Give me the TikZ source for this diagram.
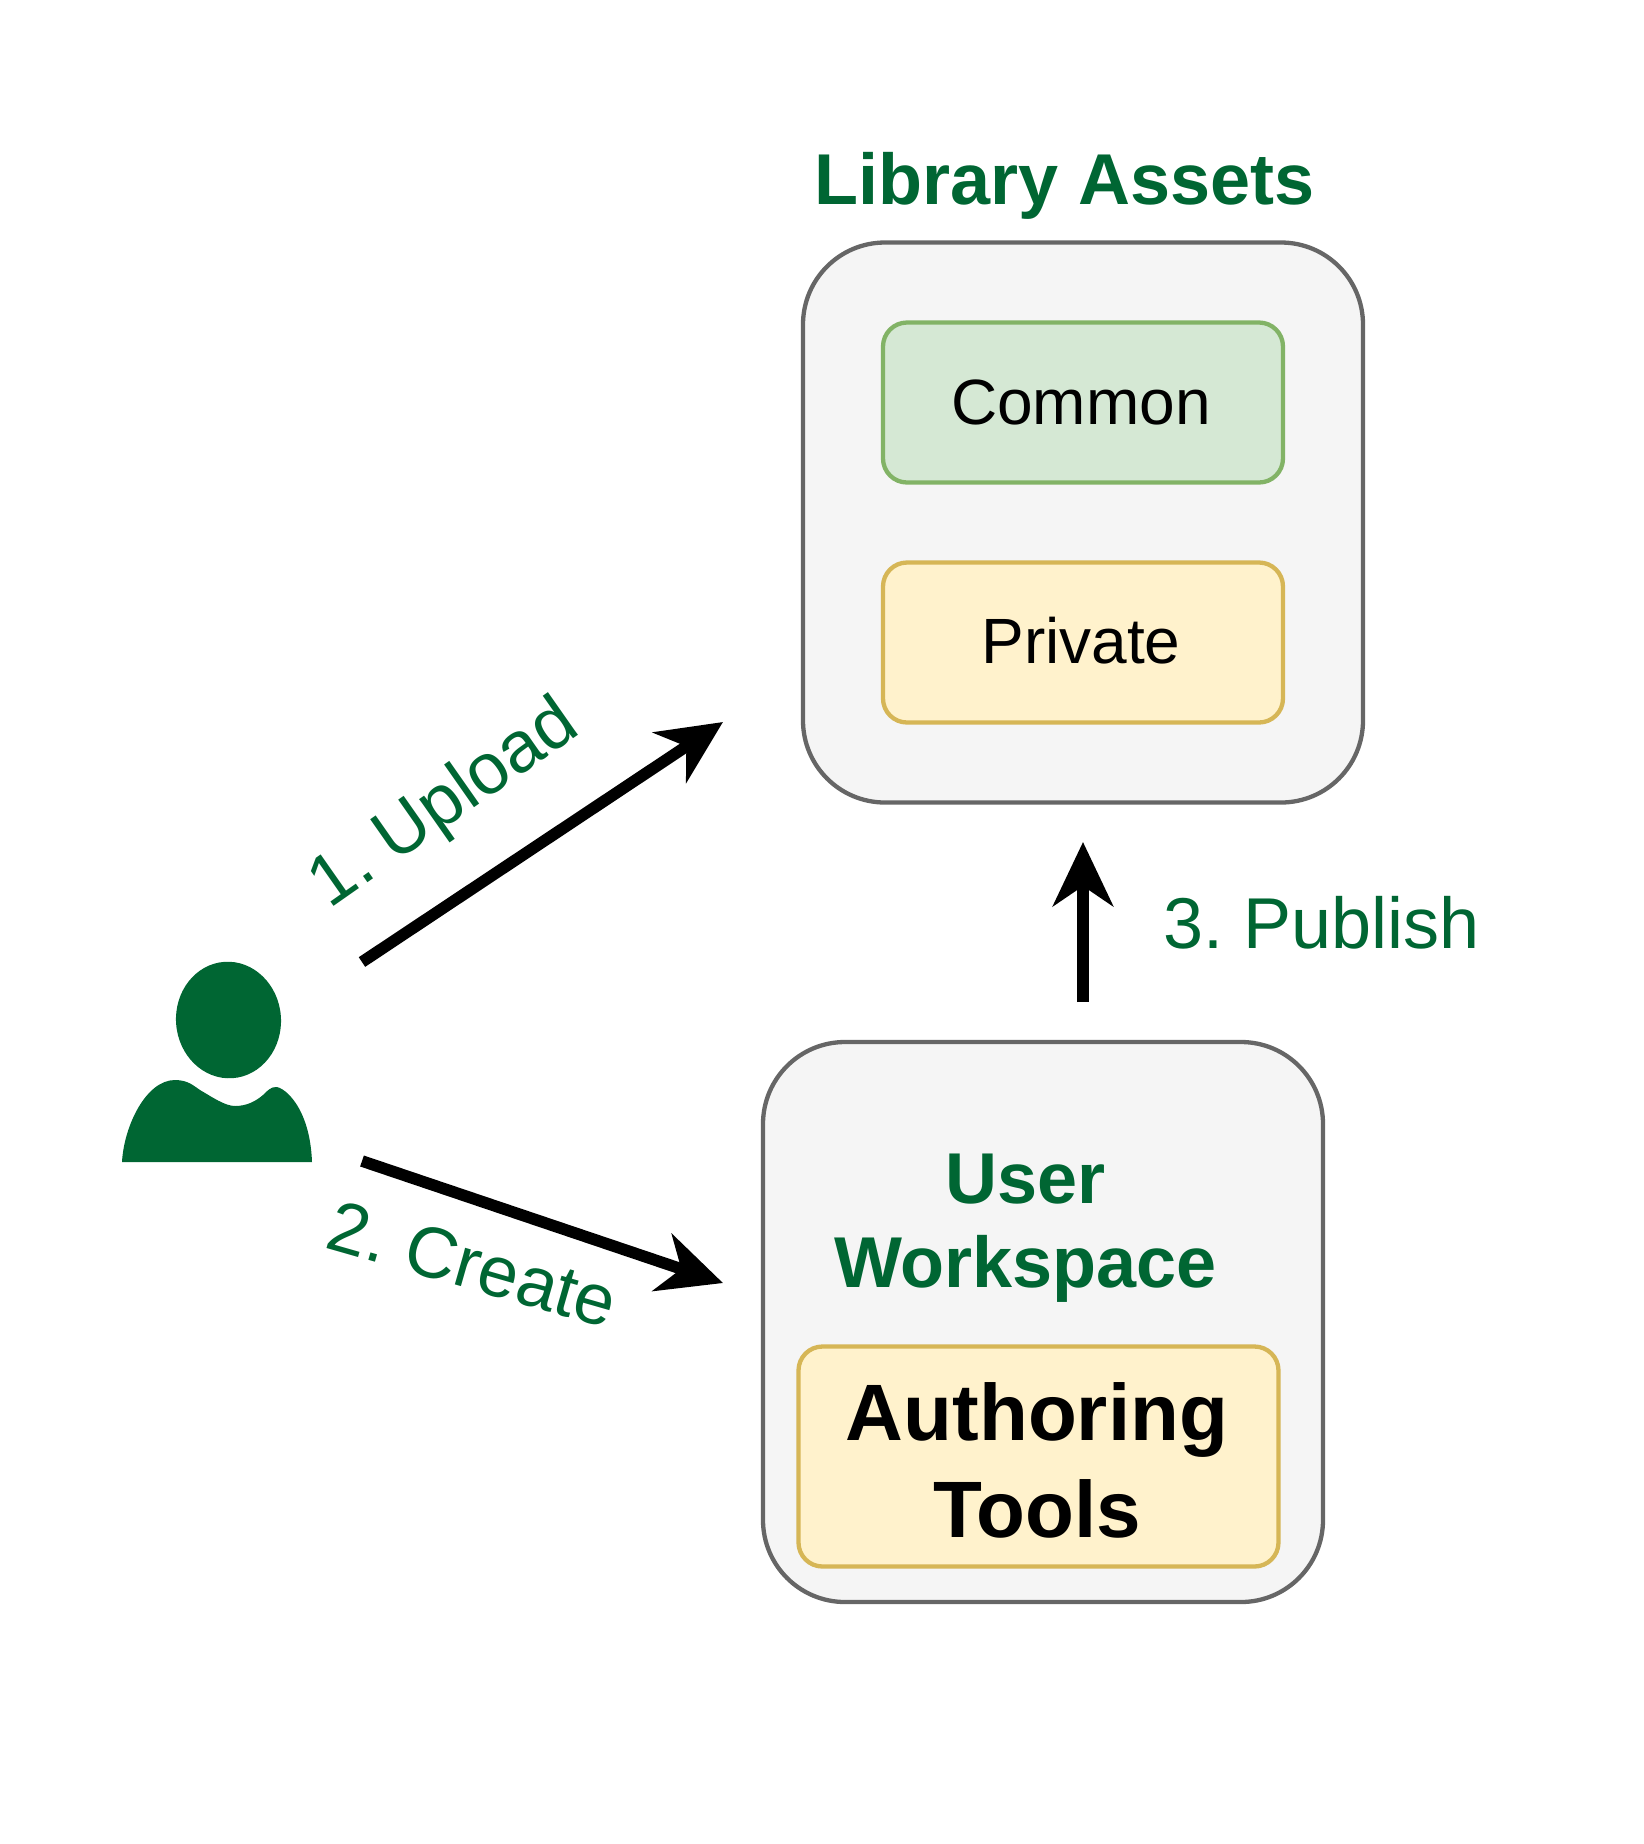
\documentclass[tikz,border=0pt]{standalone}
\usepackage{fontspec}
\setmainfont{Liberation Sans}
\usepackage{tikz}
\usetikzlibrary{arrows.meta}
\definecolor{deepgreen}{HTML}{006633}
\definecolor{greenline}{HTML}{82B366}
\definecolor{greenfill}{HTML}{D5E8D4}
\definecolor{yellowline}{HTML}{D6B656}
\definecolor{yellowfill}{HTML}{FFF2CC}
\tikzset{
    outerbox/.style={draw=black!60, fill=black!4, line width=2.15pt, rounded corners=41pt, minimum width=280pt, minimum height=280pt},
    innerbox/.style={line width=2.15pt, rounded corners=12pt, align=center, inner sep=0pt},
    greenbox/.style={innerbox, draw=greenline, fill=greenfill},
    yellowbox/.style={innerbox, draw=yellowline, fill=yellowfill},
    steplabel/.style={deepgreen, font=\fontsize{36}{42}\selectfont\frenchspacing},
    headline/.style={deepgreen, align=center, font=\fontsize{36}{42}\selectfont\bfseries},
    bigarrow/.style={-{Stealth[length=32pt, width=30pt, inset=10pt]}, line width=5.8pt},
}
\begin{document}
\begin{tikzpicture}[x=0.5pt, y=-0.5pt]
    \useasboundingbox (0,0) rectangle (1644,1844);

    % Library assets
    \node (library) at (1083,522.5) [outerbox] {};
    \node (librarytitle) at (1065,186) [headline] {Library Assets};
    \node (common) at (1083,402.5) [greenbox, minimum width=200pt, minimum height=80pt] {};
    \node (commontext) at (1081,402.5) [font=\fontsize{32}{40}\selectfont] {Common};
    \node (private) at (1083,642.5) [yellowbox, minimum width=200pt, minimum height=80pt] {};
    \node (privatetext) at (1081,641) [font=\fontsize{32}{40}\selectfont] {Private};

    % User workspace
    \node (workspace) at (1043,1322) [outerbox] {};
    \node (workspacetitle) at (1025.5,1228) [headline] {User\\Workspace};
    \node (tools) at (1038.5,1456.5) [yellowbox, minimum width=240pt, minimum height=110pt] {};
    \node (toolstext) at (1037,1460) [align=center, font=\fontsize{40}{48.5}\selectfont\bfseries] {Authoring\\Tools};

    % User
    \fill [deepgreen, rotate around={4:(228.5,1020)}] (228.5,1020) ellipse [x radius=52.5, y radius=58.3];
    \fill [deepgreen] (122,1162) .. controls (124,1126) and (146,1080) .. (175,1080)
        .. controls (188,1080) and (194,1086) .. (200,1090)
        .. controls (212,1097) and (225,1106) .. (235,1106)
        .. controls (247,1106) and (256,1101) .. (263,1095)
        .. controls (268,1090) and (271,1087) .. (276,1087)
        .. controls (284,1087) and (310,1107) .. (312,1162) -- cycle;

    % Arrows
    \coordinate (uploadstart) at (362,962);
    \coordinate (uploadend) at (723,722);
    \coordinate (createstart) at (362,1161);
    \coordinate (createend) at (723,1283);
    \coordinate (publishstart) at (1083,1002);
    \coordinate (publishend) at (1083,842);
    \draw [bigarrow] (uploadstart) -- (uploadend);
    \draw [bigarrow] (createstart) -- (createend);
    \draw [bigarrow] (publishstart) -- (publishend);

    % Labels
    \node (upload) at (445,806) [steplabel, rotate=35] {1. Upload};
    \node (create) at (473,1264) [steplabel, rotate=-16] {2. Create};
    \node (publish) at (1322,923) [steplabel] {3. Publish};
\end{tikzpicture}
\end{document}
